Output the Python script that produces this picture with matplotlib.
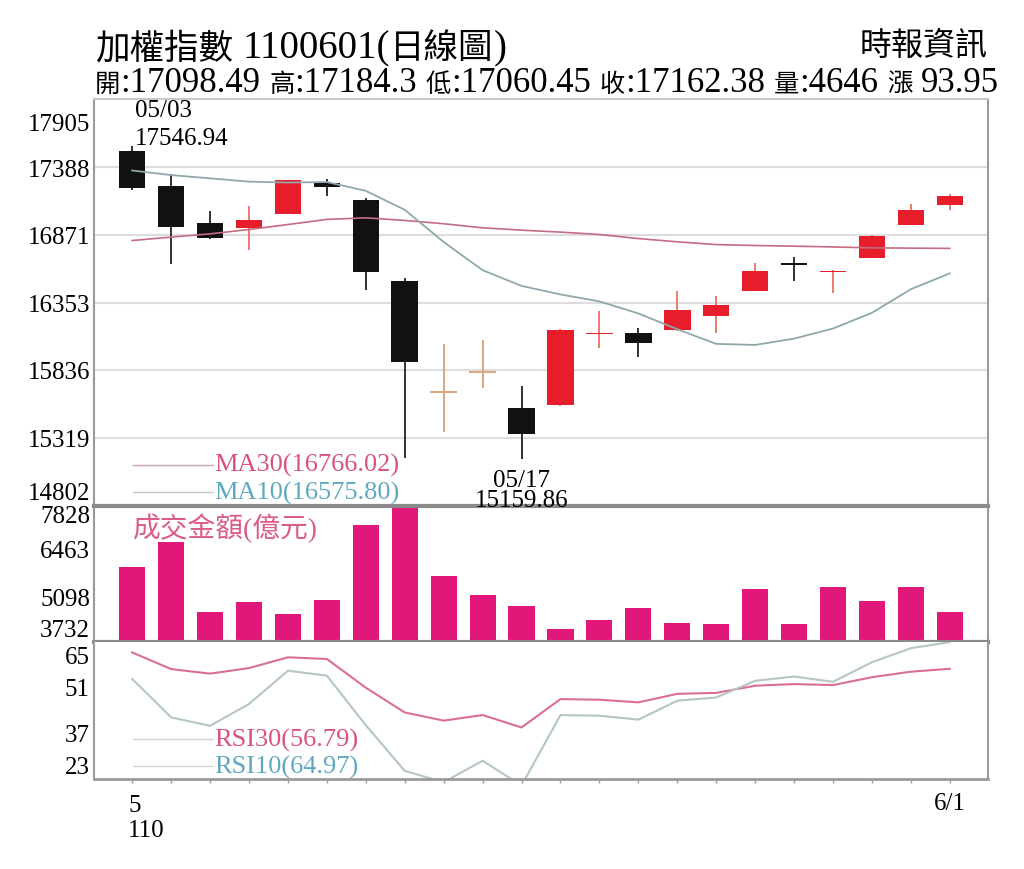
import matplotlib
matplotlib.use('Agg')
import matplotlib.pyplot as plt
import numpy as np

# TAIEX daily, 110/05/03 - 110/06/01
dates = ['05/03', '05/04', '05/05', '05/06', '05/07', '05/10', '05/11', '05/12',
         '05/13', '05/14', '05/17', '05/18', '05/19', '05/20', '05/21', '05/24',
         '05/25', '05/26', '05/27', '05/28', '05/31', '06/01']
open_ = [17505, 17245, 16960, 16918, 17030, 17268, 17135, 16520, 15665, 15822, 15550,
         15570, 16110, 16124, 16144, 16247, 16443, 16655, 16584, 16693, 16948, 17098.49]
high = [17546.94, 17330, 17050, 17090, 17290, 17295, 17152, 16540, 16035, 16068, 15719,
        16150, 16285, 16157, 16438, 16400, 16655, 16699, 16600, 16865, 17107, 17184.3]
low = [17215, 16650, 16840, 16750, 17025, 17165, 16450, 15165, 15366, 15698, 15159.86,
       15565, 16004, 15940, 16140, 16119, 16440, 16515, 16425, 16690, 16945, 17060.45]
close = [17230, 16930, 16848, 16985, 17285, 17236, 16583.13, 15902.37, 15670.10, 15827.09,
         15353.89, 16144, 16122, 16042, 16297, 16331, 16591, 16643, 16596, 16859, 17055, 17162.38]
ma30 = [16826, 16852, 16877, 16910, 16948, 16987, 16999, 16979, 16954, 16923, 16905,
        16890, 16872, 16841, 16816, 16795, 16788, 16783, 16777, 16770, 16768, 16766.02]
ma10 = [17360, 17325, 17300, 17275, 17268, 17272, 17205, 17060, 16815, 16600, 16480,
        16415, 16362, 16270, 16150, 16038, 16030, 16078, 16155, 16275, 16455, 16575.80]
volume = [5982, 6735, 4626, 4927, 4575, 5007, 7256, 7828, 5730, 5148, 4826,
          4124, 4405, 4746, 4304, 4264, 5328, 4264, 5378, 4967, 5378, 4646]
rsi30 = [61.8, 56.7, 55.3, 57.0, 60.3, 59.8, 51.0, 43.4, 40.9, 42.6, 38.8,
         47.5, 47.3, 46.5, 49.1, 49.4, 51.6, 52.1, 51.8, 54.2, 55.9, 56.79]
rsi10 = [53.7, 41.9, 39.3, 46.0, 56.2, 54.7, 39.5, 25.5, 22.0, 28.6, 21.0,
         42.6, 42.4, 41.2, 47.0, 48.0, 53.1, 54.4, 52.8, 58.8, 63.1, 64.97]

price_ticks = [17905, 17388, 16871, 16353, 15836, 15319, 14802]
vol_ticks = [7828, 6463, 5098, 3732]
rsi_ticks = [65, 51, 37, 23]

title_runs = ['加權指數', ' ', '1100601(', '日線圖', ')']
sub_runs = ['開', ':17098.49', ' ', '高', ':17184.3', ' ', '低', ':17060.45', ' ',
            '收', ':17162.38', ' ', '量', ':4646', ' ', '漲', ' ', '93.95']

SERIF = ['Liberation Serif', 'Noto Sans CJK TC']
CJK = ['Noto Sans CJK TC']

W, H = 1024, 870
fig = plt.figure(figsize=(W / 100, H / 100), dpi=100)
fig.patch.set_facecolor('white')


def box(l, t, r, b):
    return [l / W, 1 - b / H, (r - l) / W, (b - t) / H]


ax2 = fig.add_axes(box(94, 507, 988, 643))
ax3 = fig.add_axes(box(94, 643, 988, 780), sharex=ax2)
ax1 = fig.add_axes(box(94, 100, 988, 507), sharex=ax2)
ax1.set_zorder(5)

x = np.arange(len(dates))
o = np.array(open_)
c = np.array(close)
hi = np.array(high)
lo = np.array(low)

RED = '#e71d2b'
BLACK = '#111111'
DOJI = '#d9a07a'

doji = np.abs(c - o) < 10
up = c >= o
body_col = np.where(up, RED, BLACK)
wick_col = np.where(doji, DOJI, np.where(up, '#e8705e', '#222222'))

# candles
ax1.vlines(x, lo, hi, colors=wick_col, lw=1.3, zorder=2)
nd = ~doji
ax1.bar(x[nd], np.maximum(np.abs(c - o), 8)[nd], bottom=np.minimum(o, c)[nd],
        width=0.68, color=body_col[nd], lw=0, zorder=3)
ax1.hlines(c[doji], x[doji] - 0.34, x[doji] + 0.34, colors=DOJI, lw=1.3, zorder=3)

ax1.plot(x, ma30, color='#c46c80', lw=1.2, zorder=4)
ax1.plot(x, ma10, color='#8fa8ac', lw=1.3, zorder=4)

ax1.set_xlim(-0.98, 21.98)
ax1.set_ylim(price_ticks[-1], price_ticks[0])
for v in price_ticks[1:-1]:
    ax1.axhline(v, color='#dddddd', lw=1.5, zorder=0)

# volume
ax2.bar(x, volume, width=0.67, color='#e2177a', lw=0)
ax2.set_ylim(vol_ticks[-1], vol_ticks[0])

# RSI
ax3.plot(x, rsi30, color='#d9708f', lw=1.5)
ax3.plot(x, rsi10, color='#b4c6c6', lw=1.5)
ax3.set_ylim(rsi_ticks[-1], rsi_ticks[0])

for ax in (ax1, ax2, ax3):
    ax.set_yticks([])
    for s in ('left', 'right', 'top'):
        ax.spines[s].set_color('#9a9a9a')
        ax.spines[s].set_linewidth(1.5)
    ax.tick_params(axis='x', labelbottom=False, length=0)
ax1.spines['top'].set_color('#c8c8c8')
ax2.spines['top'].set_visible(False)
ax3.spines['top'].set_visible(False)
ax1.spines['bottom'].set_color('#8a8a8a')
ax1.spines['bottom'].set_linewidth(3)
ax2.spines['bottom'].set_color('#8a8a8a')
ax2.spines['bottom'].set_linewidth(3)
ax3.spines['bottom'].set_color('#9a9a9a')
ax3.spines['bottom'].set_linewidth(2)
ax3.set_xticks(x)
ax3.tick_params(axis='x', direction='out', length=3, width=1, color='#9a9a9a')


def ylabels(ax, ticks, offs):
    for v, dy in zip(ticks, offs):
        ax.annotate(str(v), xy=(0, v), xycoords=ax.get_yaxis_transform(),
                    xytext=(-4, dy), textcoords='offset pixels', ha='right',
                    va='center', fontsize=18, family=SERIF, annotation_clip=False)


ylabels(ax1, price_ticks, [-25, -3, -2, -2, -2, -2, 13])
ylabels(ax2, vol_ticks, [-10, 0, -2, 12])
ylabels(ax3, rsi_ticks, [-15, -1, -2, 12])

# high / low notes
ih = int(np.argmax(hi))
il = int(np.argmin(lo))
ax1.annotate(dates[ih], xy=(ih, hi[ih]), xytext=(3, 30), textcoords='offset pixels',
             ha='left', va='baseline', fontsize=18, family=SERIF)
ax1.annotate(f'{hi[ih]:.2f}', xy=(ih, hi[ih]), xytext=(3, 2), textcoords='offset pixels',
             ha='left', va='baseline', fontsize=18, family=SERIF)
ax1.annotate(dates[il], xy=(il, lo[il]), xytext=(0, -27), textcoords='offset pixels',
             ha='center', va='baseline', fontsize=18, family=SERIF, zorder=6)
ax1.annotate(f'{lo[il]:.2f}', xy=(il, lo[il]), xytext=(0, -47), textcoords='offset pixels',
             ha='center', va='baseline', fontsize=18, family=SERIF, zorder=6,
             annotation_clip=False)

# legends
ax1.plot([0.044, 0.133], [0.101, 0.101], transform=ax1.transAxes, color='#c9a3ab', lw=1)
ax1.plot([0.044, 0.133], [0.034, 0.034], transform=ax1.transAxes, color='#c4cccc', lw=1)
ax1.text(0.134, 0.101, f'MA30({ma30[-1]:.2f})', transform=ax1.transAxes, color='#d9537c',
         fontsize=19, family=SERIF, va='center')
ax1.text(0.134, 0.034, f'MA10({ma10[-1]:.2f})', transform=ax1.transAxes, color='#5fa9c0',
         fontsize=19, family=SERIF, va='center')
ax2.text(0.044, 0.846, '成交金額(億元)', transform=ax2.transAxes, color='#dc5c88',
         fontsize=20, family=SERIF, va='center')
ax3.plot([0.044, 0.133], [0.292, 0.292], transform=ax3.transAxes, color='#d4d4d4', lw=1)
ax3.plot([0.044, 0.133], [0.095, 0.095], transform=ax3.transAxes, color='#d4d4d4', lw=1)
ax3.text(0.134, 0.292, f'RSI30({rsi30[-1]:.2f})', transform=ax3.transAxes, color='#d9537c',
         fontsize=19, family=SERIF, va='center')
ax3.text(0.134, 0.095, f'RSI10({rsi10[-1]:.2f})', transform=ax3.transAxes, color='#5fa9c0',
         fontsize=19, family=SERIF, va='center')

# x labels
xt = ax3.get_xaxis_transform()
ax3.annotate(str(int(dates[0][:2])), xy=(0, 0), xycoords=xt, xytext=(-4, -32),
             textcoords='offset pixels', ha='left', va='baseline', fontsize=18, family=SERIF)
ax3.annotate('110', xy=(0, 0), xycoords=xt, xytext=(-4, -57),
             textcoords='offset pixels', ha='left', va='baseline', fontsize=18, family=SERIF)
last = dates[-1]
ax3.annotate(f'{int(last[:2])}/{int(last[3:])}', xy=(x[-1], 0), xycoords=xt, xytext=(0, -30),
             textcoords='offset pixels', ha='center', va='baseline', fontsize=18, family=SERIF)

# header
renderer = fig.canvas.get_renderer()


def is_cjk(s):
    return any(ord(ch) > 0x2e80 for ch in s)


def draw_runs(x0, base, runs, lat, cjk, width):
    def place(k):
        arts = []
        cx = x0
        for s in runs:
            if s == ' ':
                cx += 0.25 * lat * k * 100 / 72
                continue
            fam, size = (CJK, cjk) if is_cjk(s) else (['Liberation Serif'], lat)
            t = fig.text(cx / W, 1 - base / H, s, family=fam, fontsize=size * k,
                         ha='left', va='baseline')
            cx += t.get_window_extent(renderer).width
            arts.append(t)
        return arts, cx - x0
    arts, w = place(1.0)
    for a in arts:
        a.remove()
    place(width / w)


draw_runs(95, 58, title_runs, 27, 24, 412)
draw_runs(95, 92, sub_runs, 26, 19, 903)
fig.text(988 / W, 1 - 55 / H, '時報資訊', family=CJK, fontsize=23, ha='right', va='baseline')

fig.savefig('out.png', dpi=100, facecolor='white')
